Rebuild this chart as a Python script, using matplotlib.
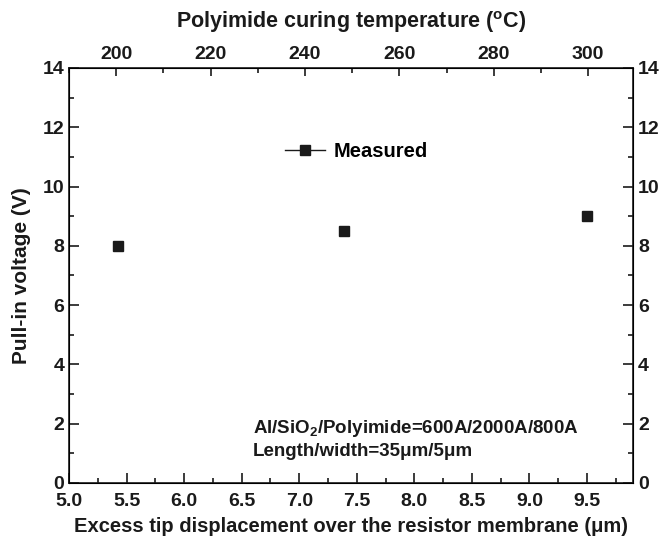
import matplotlib
matplotlib.use('Agg')
import matplotlib.pyplot as plt
from matplotlib.ticker import MultipleLocator

plt.rcParams['font.family'] = ['Liberation Sans', 'DejaVu Sans']
plt.rcParams['font.weight'] = 'bold'
plt.rcParams['mathtext.fontset'] = 'custom'
plt.rcParams['mathtext.rm'] = 'Liberation Sans:bold'
plt.rcParams['mathtext.it'] = 'Liberation Sans:bold'
plt.rcParams['mathtext.bf'] = 'Liberation Sans:bold'

# measured data
displacement = [5.43, 7.39, 9.5]
pull_in_voltage = [8.0, 8.5, 9.0]

xlim_disp = (5.0, 9.9)
xlim_temp = (190, 309.5)

fig = plt.figure(figsize=(6.66, 5.43), dpi=100)
ax = fig.add_axes([0.1036, 0.1105, 0.8469, 0.7643])

ax.plot(displacement, pull_in_voltage, linestyle='none', marker='s',
        markersize=6.5, color='#1a1a1a', label='Measured')

ax.set_xlim(*xlim_disp)
ax.set_ylim(0, 14)
ax.xaxis.set_major_locator(MultipleLocator(0.5))
ax.xaxis.set_minor_locator(MultipleLocator(0.25))
ax.yaxis.set_major_locator(MultipleLocator(2))
ax.yaxis.set_minor_locator(MultipleLocator(1))
ax.xaxis.set_major_formatter(matplotlib.ticker.FormatStrFormatter('%.1f'))

ax.tick_params(which='both', direction='in', right=True, labelright=True,
               labelsize=14, width=1.2, colors='#1a1a1a')
ax.tick_params(which='major', length=7)
ax.tick_params(which='minor', length=3.5)
ax.tick_params(axis='x', pad=7)
for s in ax.spines.values():
    s.set_linewidth(1.2)
    s.set_color('#1a1a1a')

ax.set_xlabel('Excess tip displacement over the resistor membrane (\u03bcm)',
              fontsize=14.5, fontweight='bold', labelpad=5, color='#1a1a1a')
ax.set_ylabel('Pull-in voltage (V)', fontsize=15, fontweight='bold',
              labelpad=8, color='#1a1a1a')

top = ax.twiny()
top.set_xlim(*xlim_temp)
top.xaxis.set_major_locator(MultipleLocator(20))
top.xaxis.set_minor_locator(MultipleLocator(10))
top.tick_params(which='both', direction='in', labelsize=14, width=1.2,
                colors='#1a1a1a')
top.tick_params(which='major', length=6)
top.tick_params(which='minor', length=3.5)
top.set_xlabel(r'Polyimide curing temperature ($^{\rm o}$C)', fontsize=15.5,
               fontweight='bold', labelpad=13, color='#1a1a1a')

leg = ax.legend(loc='center left', bbox_to_anchor=(0.383, 0.798), frameon=False,
                fontsize=14.5, handlelength=2.0, handletextpad=0.4,
                borderpad=0, borderaxespad=0)
for h in leg.legend_handles:
    h.set_linestyle('-')
    h.set_linewidth(1)

ax.text(0.326, 0.1325, 'Al/SiO$_2$/Polyimide=600A/2000A/800A', transform=ax.transAxes,
        fontsize=13.5, fontweight='bold', color='#1a1a1a', va='center')
ax.text(0.326, 0.0747, 'Length/width=35\u03bcm/5\u03bcm', transform=ax.transAxes,
        fontsize=13.5, fontweight='bold', color='#1a1a1a', va='center')

fig.savefig('out.png', dpi=100)
